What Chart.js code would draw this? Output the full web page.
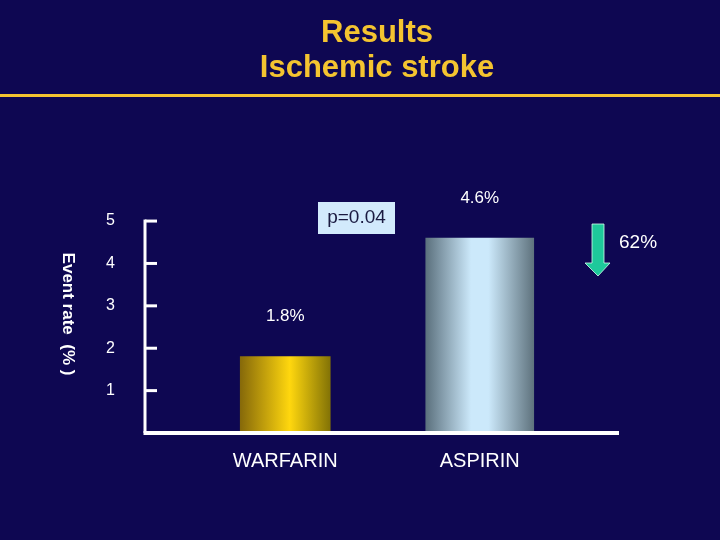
<!DOCTYPE html>
<html>
<head>
<meta charset="utf-8">
<script src="https://cdn.jsdelivr.net/npm/chart.js@4.4.1/dist/chart.umd.min.js"></script>
<style>
  html, body { margin: 0; padding: 0; background: #0e0752; }
  #wrap { width: 720px; height: 540px; }
</style>
</head>
<body>
<div id="wrap"><canvas id="chart" width="720" height="540"></canvas></div>
<script>
// data
const categories = ['WARFARIN', 'ASPIRIN'];
const eventRates = [1.8, 4.6];
const valueLabels = ['1.8%', '4.6%'];
const yTickValues = [1, 2, 3, 4, 5];
const pValue = 'p=0.04';
const reduction = '62%';

const FONT = '"Liberation Sans", Arial, sans-serif';
const barWidths = [90, 108];
const barStops = [
  [[0, '#86690a'], [0.55, '#ffd70e'], [1, '#837306']],
  [[0, '#5b707d'], [0.42, '#cce9fb'], [0.58, '#cce9fb'], [1, '#5f737e']]
];

function barFill(ctx) {
  const chart = ctx.chart;
  const i = ctx.datasetIndex;
  if (!chart.chartArea || ctx.dataIndex === undefined) return barStops[i][1][1];
  const cx = chart.scales.x.getPixelForValue(ctx.dataIndex);
  const w = barWidths[i];
  const g = chart.ctx.createLinearGradient(cx - w / 2, 0, cx + w / 2, 0);
  barStops[i].forEach(s => g.addColorStop(s[0], s[1]));
  return g;
}

// axes, rule, annotations
const slideDecor = {
  id: 'slideDecor',
  afterDatasetsDraw(chart) {
    const c = chart.ctx;
    const y = chart.scales.y;
    const base = y.getPixelForValue(0);
    const axisX = 145;
    c.save();

    // yellow rule under title
    c.fillStyle = '#f4c430';
    c.fillRect(0, 94, 720, 3);

    // axis lines + tick marks
    c.strokeStyle = '#ffffff';
    c.lineWidth = 3;
    c.beginPath();
    c.moveTo(axisX, y.getPixelForValue(5) - 1.5);
    c.lineTo(axisX, base);
    c.stroke();
    c.lineWidth = 4;
    c.beginPath();
    c.moveTo(axisX - 1.5, base);
    c.lineTo(619, base);
    c.stroke();
    c.lineWidth = 3;
    yTickValues.forEach(v => {
      const py = y.getPixelForValue(v);
      c.beginPath();
      c.moveTo(axisX, py);
      c.lineTo(157, py);
      c.stroke();
    });

    // y title, reads top to bottom
    c.fillStyle = '#ffffff';
    c.font = 'bold 17px ' + FONT;
    c.textAlign = 'center';
    c.textBaseline = 'middle';
    c.save();
    c.translate(68, 314);
    c.rotate(Math.PI / 2);
    c.fillText('Event rate  (% )', 0, 0);
    c.restore();

    // value labels above bars
    c.font = '17px ' + FONT;
    categories.forEach((cat, i) => {
      const el = chart.getDatasetMeta(i).data[i];
      c.fillText(valueLabels[i], el.x, el.y - 40);
    });

    // p value box
    c.fillStyle = '#d2eafc';
    c.fillRect(318, 202, 77, 32);
    c.fillStyle = '#1a1a40';
    c.font = '19px ' + FONT;
    c.fillText(pValue, 356.5, 218);

    // green arrow
    c.beginPath();
    c.moveTo(592, 224);
    c.lineTo(604, 224);
    c.lineTo(604, 263);
    c.lineTo(610, 263);
    c.lineTo(598, 276);
    c.lineTo(585, 263);
    c.lineTo(592, 263);
    c.closePath();
    c.fillStyle = '#1ec99b';
    c.fill();
    c.strokeStyle = 'rgba(210,255,235,0.8)';
    c.lineWidth = 1;
    c.stroke();

    c.fillStyle = '#ffffff';
    c.textAlign = 'left';
    c.font = '19px ' + FONT;
    c.fillText(reduction, 619, 243);
    c.restore();
  }
};

new Chart(document.getElementById('chart'), {
  type: 'bar',
  data: {
    labels: categories,
    datasets: categories.map((cat, i) => ({
      label: cat,
      data: eventRates.map((v, j) => (j === i ? v : null)),
      grouped: false,
      barThickness: barWidths[i],
      backgroundColor: barFill,
      borderWidth: 0
    }))
  },
  options: {
    responsive: false,
    animation: false,
    layout: { padding: { left: 34, right: 0, top: 0, bottom: 47 } },
    plugins: {
      legend: { display: false },
      tooltip: { enabled: false },
      title: {
        display: true,
        text: ['Results', 'Ischemic stroke'],
        color: '#f4c430',
        font: { family: FONT, size: 31, weight: 'bold', lineHeight: 1.13 },
        padding: { top: 15.5, bottom: 135.5 }
      }
    },
    scales: {
      x: {
        afterFit(scale) { scale.height = 60; },
        grid: { display: true, drawOnChartArea: false, drawTicks: false, color: 'transparent' },
        border: { display: false },
        ticks: { color: '#ffffff', font: { family: FONT, size: 20 }, padding: 16 }
      },
      y: {
        min: 0,
        max: 5,
        afterFit(scale) { scale.width = 154; },
        grid: { display: true, drawOnChartArea: false, drawTicks: false, color: 'transparent' },
        border: { display: false },
        ticks: {
          stepSize: 1,
          color: '#ffffff',
          font: { family: FONT, size: 16 },
          padding: 73,
          callback: v => (v === 0 ? '' : v)
        }
      },
      // empty right-hand spacer so the plot area ends where the slide's does
      spacer: {
        position: 'right',
        afterFit(scale) { scale.width = 143; },
        grid: { display: false },
        border: { display: false },
        ticks: { display: false }
      }
    }
  },
  plugins: [slideDecor]
});
</script>
</body>
</html>
